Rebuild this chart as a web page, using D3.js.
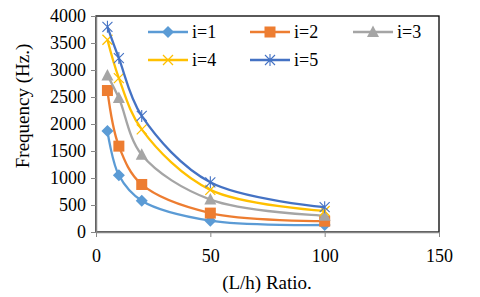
<!DOCTYPE html>
<html>
<head>
<meta charset="utf-8">
<script src="https://cdn.jsdelivr.net/npm/d3@7"></script>
<style>
  body { margin: 0; background: #fff; }
  text { font-family: "Liberation Serif", "Times New Roman", serif; fill: #000; }
</style>
</head>
<body>
<div id="chart"></div>
<script>
// data
var ratios = [5, 10, 20, 50, 100];
var seriesNames = ["i=1", "i=2", "i=3", "i=4", "i=5"];
var freq1 = [1870, 1050, 580, 210, 130];
var freq2 = [2620, 1590, 880, 350, 200];
var freq3 = [2900, 2480, 1430, 600, 300];
var freq4 = [3560, 2850, 1900, 780, 390];
var freq5 = [3800, 3220, 2150, 920, 460];
var xTicks = [0, 50, 100, 150];
var yTicks = [0, 500, 1000, 1500, 2000, 2500, 3000, 3500, 4000];

var colors = ["#5B9BD5", "#ED7D31", "#A5A5A5", "#FFC000", "#4472C4"];
var markers = ["diamond", "square", "triangle", "x", "star"];
var allFreq = [freq1, freq2, freq3, freq4, freq5];

var svgWidth = 480, svgHeight = 297;
var margin = { top: 16, right: 41, bottom: 65, left: 96 };
var width = svgWidth - margin.left - margin.right;
var height = svgHeight - margin.top - margin.bottom;

var svg = d3.select("#chart").append("svg")
    .attr("width", svgWidth)
    .attr("height", svgHeight);

var g = svg.append("g")
    .attr("transform", `translate(${margin.left}, ${margin.top})`);

var xScale = d3.scaleLinear().domain([0, 150]).range([0, width]);
var yScale = d3.scaleLinear().domain([0, 4000]).range([height, 0]);

// plot border
g.append("rect")
    .attr("width", width)
    .attr("height", height)
    .attr("fill", "none")
    .attr("stroke", "#000")
    .attr("stroke-width", 1.3);

// axes
var bottomAxis = d3.axisBottom(xScale).tickValues(xTicks).tickFormat(d3.format("d"))
    .tickSize(5).tickSizeOuter(0);
var leftAxis = d3.axisLeft(yScale).tickValues(yTicks).tickFormat(d3.format("d"))
    .tickSize(5).tickSizeOuter(0);

var xAx = g.append("g")
    .attr("transform", `translate(0, ${height})`)
    .call(bottomAxis);
xAx.selectAll("text").attr("font-size", 18).attr("y", 17);

var yAx = g.append("g").call(leftAxis);
yAx.selectAll("text").attr("font-size", 18).attr("x", -10).attr("dy", "0.33em");

[xAx, yAx].forEach(function (a) {
    a.select(".domain").attr("stroke", "#868686").attr("stroke-width", 1.5);
    a.selectAll(".tick line").attr("stroke", "#868686");
});

// axis titles
svg.append("text")
    .attr("x", 267)
    .attr("y", 289)
    .attr("text-anchor", "middle")
    .attr("font-size", 19)
    .text("(L/h) Ratio.");

svg.append("text")
    .attr("transform", "rotate(-90)")
    .attr("x", -106)
    .attr("y", 29)
    .attr("text-anchor", "middle")
    .attr("font-size", 19)
    .text("Frequency (Hz.)");

function markerPath(type, sel, color) {
    if (type === "diamond") {
        sel.append("path").attr("d", "M0,-6L6,0L0,6L-6,0Z")
            .attr("fill", color);
    } else if (type === "square") {
        sel.append("rect").attr("x", -5.5).attr("y", -5.5).attr("width", 11).attr("height", 11)
            .attr("fill", color);
    } else if (type === "triangle") {
        sel.append("path").attr("d", "M0,-6.5L6,5L-6,5Z").attr("fill", color);
    } else if (type === "x") {
        sel.append("path").attr("d", "M-5,-5L5,5M5,-5L-5,5")
            .attr("stroke", color).attr("stroke-width", 1.3);
    } else {
        sel.append("path").attr("d", "M-5,-5L5,5M5,-5L-5,5M0,-6L0,6")
            .attr("stroke", color).attr("stroke-width", 1.1);
    }
}

var line = d3.line()
    .x(d => xScale(d[0]))
    .y(d => yScale(d[1]))
    .curve(d3.curveCatmullRom.alpha(0.5));

allFreq.forEach(function (vals, i) {
    var pts = ratios.map((r, k) => [r, vals[k]]);
    g.append("path")
        .datum(pts)
        .attr("d", line)
        .attr("fill", "none")
        .attr("stroke", colors[i])
        .attr("stroke-width", 2.3);
    pts.forEach(function (p) {
        var m = g.append("g")
            .attr("transform", `translate(${xScale(p[0])}, ${yScale(p[1])})`);
        markerPath(markers[i], m, colors[i]);
    });
});

// legend
var legendPos = [[148, 32], [250, 32], [353, 32], [148, 60], [250, 60]];
seriesNames.forEach(function (name, i) {
    var lg = svg.append("g")
        .attr("transform", `translate(${legendPos[i][0]}, ${legendPos[i][1]})`);
    lg.append("line")
        .attr("x1", 0).attr("x2", 40)
        .attr("stroke", colors[i]).attr("stroke-width", 2.3);
    var m = lg.append("g").attr("transform", "translate(20,0)");
    markerPath(markers[i], m, colors[i]);
    lg.append("text")
        .attr("x", 44)
        .attr("dy", "0.33em")
        .attr("font-size", 18)
        .text(name);
});
</script>
</body>
</html>
